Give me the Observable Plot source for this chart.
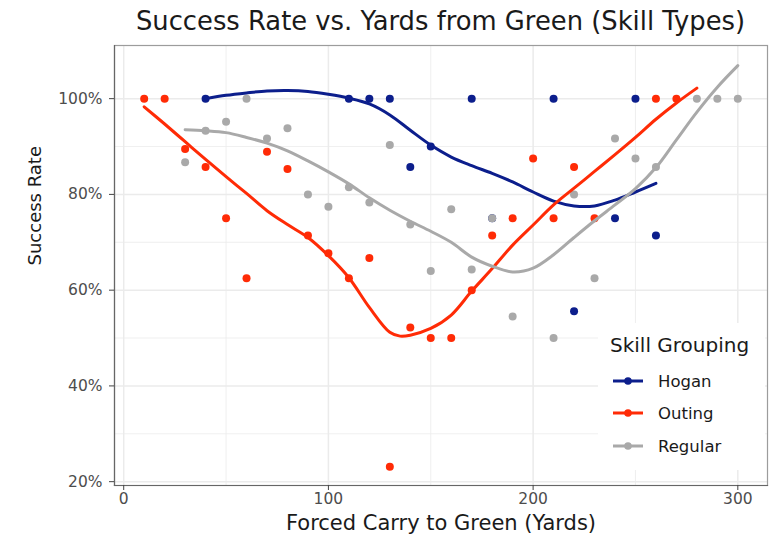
<!DOCTYPE html>
<html>
<head>
<meta charset="utf-8">
<script src="https://cdn.jsdelivr.net/npm/d3@7"></script>
<script src="https://cdn.jsdelivr.net/npm/@observablehq/plot@0.6"></script>
<style>
  html, body { margin: 0; padding: 0; background: #fff; }
  #wrap { position: relative; width: 777px; height: 536px; overflow: hidden; font-family: "DejaVu Sans", sans-serif; }
  #title { position: absolute; left: 114px; top: 0; width: 653px; height: 42px; line-height: 42px; text-align: center; font-size: 25.8px; color: #1a1a1a; white-space: nowrap; }
  #chart { position: absolute; left: 0; top: 42px; }
  #legend { position: absolute; left: 598px; top: 323px; }
</style>
</head>
<body>
<div id="wrap">
  <div id="title">Success Rate vs. Yards from Green (Skill Types)</div>
  <div id="chart"></div>
  <svg id="legend" width="167" height="147"></svg>
</div>
<script>
// ---- Data ----
const groups = ["Hogan", "Outing", "Regular"];
const groupColors = ["#0c1e8c", "#ff2b06", "#a9a9a9"];

const hoganX = [40, 110, 120, 130, 140, 150, 170, 180, 210, 220, 240, 250, 260];
const hoganY = [100, 100, 100, 100, 85.7, 90, 100, 75, 100, 55.6, 75, 100, 71.4];

const outingX = [10, 20, 30, 40, 50, 60, 70, 80, 90, 100, 110, 120, 130, 140, 150, 160, 170, 180, 190, 200, 210, 220, 230, 260, 270];
const outingY = [100, 100, 89.5, 85.7, 75, 62.5, 88.9, 85.3, 71.4, 67.7, 62.5, 66.7, 23.1, 52.2, 50, 50, 60, 71.4, 75, 87.5, 75, 85.7, 75, 100, 100];

const regularX = [30, 40, 50, 60, 70, 80, 90, 100, 110, 120, 130, 140, 150, 160, 170, 180, 190, 210, 220, 230, 240, 250, 260, 280, 290, 300];
const regularY = [86.7, 93.3, 95.2, 100, 91.7, 93.8, 80, 77.4, 81.5, 78.3, 90.3, 73.7, 64, 76.9, 64.3, 75, 54.5, 50, 80, 62.5, 91.7, 87.5, 85.7, 100, 100, 100];

// smoothed (loess) curves
const hoganSmoothX = [40, 50, 60, 70, 80, 90, 100, 110, 120, 130, 140, 150, 160, 170, 180, 190, 200, 210, 220, 230, 240, 250, 260];
const hoganSmoothY = [100.0, 100.7, 101.2, 101.6, 101.7, 101.5, 100.9, 100.1, 98.9, 96.6, 93.4, 90.3, 87.8, 86.0, 84.4, 82.6, 80.5, 78.6, 77.6, 77.6, 78.8, 80.5, 82.3];

const outingSmoothX = [10, 20, 30, 40, 50, 60, 70, 80, 90, 100, 110, 120, 130, 135, 140, 150, 160, 170, 180, 190, 200, 210, 220, 230, 240, 250, 260, 270, 280];
const outingSmoothY = [98.3, 94.7, 91.0, 87.3, 83.7, 80.2, 76.6, 73.7, 71.0, 67.2, 62.6, 56.4, 51.2, 50.4, 50.6, 52.0, 54.8, 59.8, 64.5, 69.4, 73.6, 77.8, 81.3, 84.8, 88.3, 91.9, 95.7, 99.1, 102.2];

const regularSmoothX = [30, 40, 50, 60, 70, 80, 90, 100, 110, 120, 130, 140, 150, 160, 170, 180, 190, 200, 210, 220, 230, 240, 250, 260, 270, 280, 290, 300];
const regularSmoothY = [93.5, 93.3, 92.9, 91.9, 90.7, 89.1, 87.0, 84.7, 82.2, 79.3, 76.7, 74.4, 72.3, 70.0, 66.9, 65.0, 63.8, 64.6, 67.4, 71.0, 74.5, 77.8, 81.2, 85.6, 91.4, 97.2, 102.4, 106.9];

const xTicks = [0, 100, 200, 300];
const xMinor = [50, 150, 250];
const yTicks = [20, 40, 60, 80, 100];
const yMinor = [30, 50, 70, 90];

// ---- build tables ----
function table(g, xs, ys) { return xs.map((x, i) => ({group: g, x, y: ys[i]})); }
const points = [
  ...table("Hogan", hoganX, hoganY),
  ...table("Outing", outingX, outingY),
  ...table("Regular", regularX, regularY)
];
const smooth = [
  ...table("Hogan", hoganSmoothX, hoganSmoothY),
  ...table("Outing", outingSmoothX, outingSmoothY),
  ...table("Regular", regularSmoothX, regularSmoothY)
];

const gridColor = "#ebebeb";
const chart = Plot.plot({
  width: 777,
  height: 494,
  marginLeft: 114,
  marginRight: 10,
  marginTop: 3,
  marginBottom: 51,
  style: {fontFamily: "DejaVu Sans, sans-serif", fontSize: "15.5px", color: "#4d4d4d", background: "transparent"},
  x: {domain: [-4.5, 314.5]},
  y: {domain: [19.2, 111.1]},
  color: {domain: groups, range: groupColors},
  marks: [
    Plot.ruleX(xMinor, {stroke: gridColor, strokeWidth: 0.8}),
    Plot.ruleY(yMinor, {stroke: gridColor, strokeWidth: 0.8}),
    Plot.ruleX(xTicks, {stroke: gridColor, strokeWidth: 1.5}),
    Plot.ruleY(yTicks, {stroke: gridColor, strokeWidth: 1.5}),
    Plot.frame({stroke: "#9c9c9c", strokeWidth: 1.2}),
    Plot.frame({anchor: "left", stroke: "#666", strokeWidth: 1.2}),
    Plot.frame({anchor: "bottom", stroke: "#666", strokeWidth: 1.2}),
    Plot.axisX(xTicks, {tickSize: 5, tickPadding: 2, stroke: "#444", fill: "#4d4d4d", label: null}),
    Plot.axisY(yTicks, {tickSize: 5, tickPadding: 7, stroke: "#444", fill: "#4d4d4d", tickFormat: d => d + "%", label: null}),
    Plot.dot(points, {x: "x", y: "y", fill: "group", r: 4}),
    Plot.line(smooth, {x: "x", y: "y", stroke: "group", z: "group", strokeWidth: 3, curve: "catmull-rom"}),
    Plot.text(["Success Rate"], {frameAnchor: "left", text: d => d, rotate: -90, dx: -79, fontSize: 18, fill: "#1a1a1a", lineAnchor: "middle"}),
    Plot.text(["Forced Carry to Green (Yards)"], {frameAnchor: "bottom", text: d => d, dy: 38, fontSize: 21, fill: "#1a1a1a", lineAnchor: "middle"})
  ]
});
document.getElementById("chart").appendChild(chart);

// ---- legend (inside the panel, bottom right) ----
const lg = d3.select("#legend");
lg.append("rect").attr("x", 0).attr("y", 0).attr("width", 167).attr("height", 147).attr("fill", "#fff");
lg.append("text").attr("x", 12).attr("y", 29).attr("font-family", "DejaVu Sans, sans-serif")
  .attr("font-size", 20).attr("fill", "#1a1a1a").text("Skill Grouping");
const rowY = [58, 90, 123];
groups.forEach((g, i) => {
  const yy = rowY[i];
  lg.append("line").attr("x1", 15).attr("x2", 45).attr("y1", yy).attr("y2", yy)
    .attr("stroke", groupColors[i]).attr("stroke-width", 3);
  lg.append("circle").attr("cx", 30).attr("cy", yy).attr("r", 3.8).attr("fill", groupColors[i]);
  lg.append("text").attr("x", 60).attr("y", yy + 6).attr("font-family", "DejaVu Sans, sans-serif")
    .attr("font-size", 16.5).attr("fill", "#1a1a1a").text(g);
});
</script>
</body>
</html>
